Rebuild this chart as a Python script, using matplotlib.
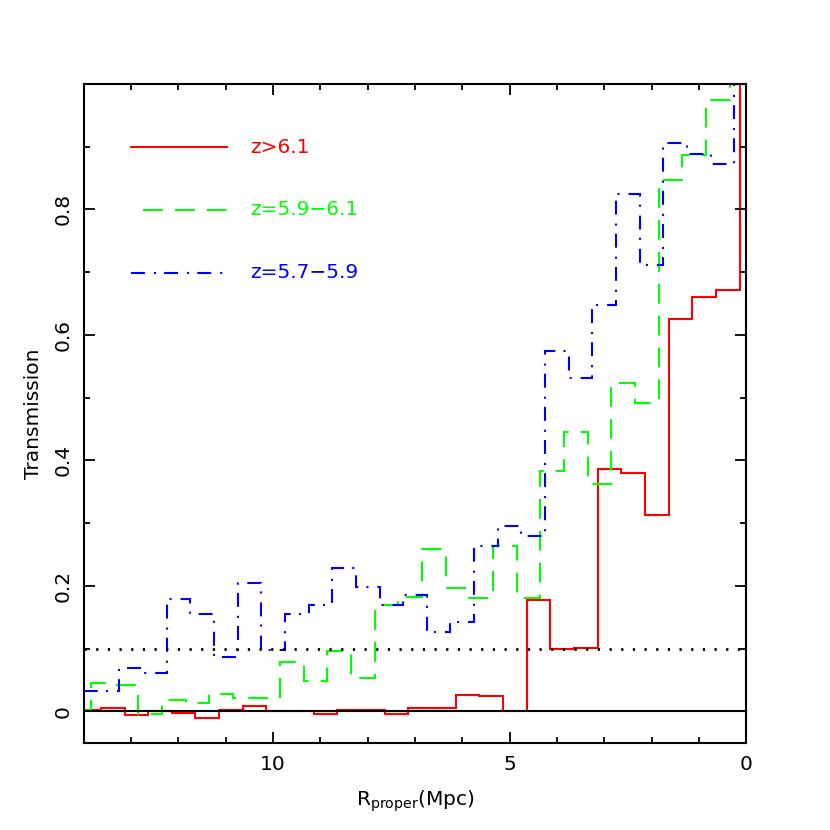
import numpy as np
import matplotlib
matplotlib.use("Agg")
import matplotlib.pyplot as plt
from matplotlib.ticker import MultipleLocator

plt.rcParams["font.family"] = ["DejaVu Sans"]

# bin values read left to right (large R -> small R), 0.5 Mpc bins,
# last entry is the short bin between the offset and R=0
red_offset = 0.14
red_vals = [0.003, 0.006, -0.005, 0.001, -0.002, -0.011, 0.003, 0.008, 0.001, 0.001,
            -0.004, 0.003, 0.002, -0.004, 0.005, 0.005, 0.026, 0.025, 0.001, 0.177,
            0.099, 0.101, 0.387, 0.380, 0.313, 0.626, 0.660, 0.671, 1.0]

green_offset = 0.35
green_vals = [0.002, 0.046, 0.042, -0.004, 0.019, 0.014, 0.028, 0.021, 0.021, 0.079,
              0.049, 0.097, 0.054, 0.169, 0.183, 0.259, 0.196, 0.181, 0.264, 0.181,
              0.383, 0.445, 0.362, 0.524, 0.491, 0.847, 0.887, 0.975, 1.0]

blue_offset = 0.25
blue_vals = [0.033, 0.033, 0.069, 0.062, 0.179, 0.156, 0.087, 0.205, 0.098, 0.156,
             0.169, 0.228, 0.198, 0.169, 0.185, 0.127, 0.143, 0.264, 0.295, 0.279,
             0.575, 0.531, 0.647, 0.825, 0.712, 0.905, 0.888, 0.872, 1.0]

labels = ["z>6.1", "z=5.9\u22126.1", "z=5.7\u22125.9"]
colors = ["#ff0000", "#00ff00", "#0000ff"]
threshold = 0.1


def bin_edges(offset, n):
    # edges from large R down to the offset, then down to 0
    e = offset + 0.5 * np.arange(n - 1, -1, -1)
    return np.append(e, 0.0)


fig = plt.figure(figsize=(8.3, 8.3), dpi=100)
ax = fig.add_axes([0.101, 0.105, 0.798, 0.794])

styles = ["-", (0, (9.5, 5.8)), (0, (6.7, 4.3, 1.0, 3.9))]
series = [(red_vals, red_offset), (green_vals, green_offset), (blue_vals, blue_offset)]
for (vals, off), c, ls in zip(series, colors, styles):
    edges = bin_edges(off, len(vals))
    ax.stairs(np.array(vals)[::-1], edges[::-1], baseline=None,
              color=c, lw=1.5, linestyle=ls)

ax.axhline(0, color="black", lw=1.5)
ax.axhline(threshold, color="black", lw=2.0, linestyle=(0, (0.8, 3.4)))

ax.set_xlim(14, 0)
ax.set_ylim(-0.05, 1.0)
ax.xaxis.set_major_locator(MultipleLocator(5))
ax.xaxis.set_minor_locator(MultipleLocator(1))
ax.yaxis.set_major_locator(MultipleLocator(0.2))
ax.yaxis.set_minor_locator(MultipleLocator(0.1))
ax.set_xticks([10, 5, 0])
ax.set_xticklabels(["10", "5", "0"])
ax.set_yticks([0, 0.2, 0.4, 0.6, 0.8])
ax.set_yticklabels(["0", "0.2", "0.4", "0.6", "0.8"], rotation=90, va="center")

ax.tick_params(which="both", direction="in", top=True, right=True, width=1.3,
               labelsize=14.5)
ax.tick_params(which="major", length=8)
ax.tick_params(which="minor", length=4.5)
ax.tick_params(axis="x", pad=9)
ax.tick_params(axis="y", pad=8)
for s in ax.spines.values():
    s.set_linewidth(1.5)

ax.set_xlabel(r"$\mathregular{R_{proper}(Mpc)}$", fontsize=14.5, labelpad=10)
ax.set_ylabel("Transmission", fontsize=14.5, labelpad=8)

# legend drawn by hand, label text in line colour
leg_y = [0.904, 0.809, 0.713]
for lab, c, ls, yy in zip(labels, colors, styles, leg_y):
    x0 = 0.071 if ls != styles[1] else 0.09
    ax.plot([x0, 0.216], [yy, yy], transform=ax.transAxes, color=c, lw=1.5,
            linestyle=ls)
    ax.text(0.251, yy, lab, transform=ax.transAxes, color=c, fontsize=14.5,
            va="center", ha="left")

fig.savefig("out.png", dpi=100)
